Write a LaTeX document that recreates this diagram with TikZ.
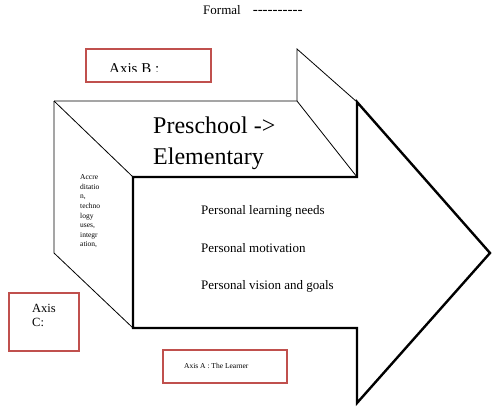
\documentclass[tikz,border=0pt]{standalone}
\usepackage{fontspec}
\setmainfont{Liberation Serif}
\definecolor{axisred}{RGB}{192,80,77}
\begin{document}
\begin{tikzpicture}[x=1pt,y=-1pt,
    front/.style={line width=2.4pt, line join=miter},
    back/.style={line width=0.8pt},
    axisbox/.style={draw=axisred, line width=2pt, inner sep=0pt},
    txt/.style={inner sep=0pt, anchor=base west}]
    \useasboundingbox (0,0) rectangle (492,412);
    % corners of the arrow
    \coordinate (tl) at (54,101);
    \coordinate (tr) at (297,101);
    \coordinate (bt) at (297,49);
    \coordinate (bl) at (54,253);
    \draw[back] (tl)--(tr)--(357,177);
    \draw[back] (tr)--(bt)--(357,102);
    \draw[back] (tl)--(133,177);
    \draw[back] (tl)--(bl)--(133,328);
    \draw[front] (133,177)--(357,177)--(357,102)--(490,253)--(357,403)--(357,328)--(133,328)--cycle;
    % texts on the arrow
    \node[txt, anchor=north west, align=left, font=\fontsize{24}{31}\selectfont] (stage) at (153,116.5) {Preschool ->\\Elementary};
    \node[txt, anchor=north west, align=left, font=\fontsize{7.5}{9.6}\selectfont] (side) at (80,174.5) {Accre\\ditatio\\n,\\techno\\logy\\uses,\\integr\\ation,};
    \foreach \t/\y [count=\i] in {Personal learning needs/214, Personal motivation/252, Personal vision and goals/289}{\node[txt, font=\fontsize{13}{15}\selectfont] (item\i) at (201,\y) {\t};}
    % axis boxes
    \node[axisbox, minimum width=125pt, minimum height=33pt] (boxB) at (148.5,65.5) {};
    \node[axisbox, minimum width=70pt, minimum height=58pt] (boxC) at (44,322) {};
    \node[axisbox, minimum width=124pt, minimum height=33pt] (boxA) at (225,366.5) {};
    \begin{scope}
        \clip (100,55) rectangle (200,71);
        \node[txt, font=\fontsize{15}{15}\selectfont] (axisB) at (109,74) {Axis B :};
    \end{scope}
    \begin{scope}
        \clip (190,0) rectangle (320,13.5);
        \node[txt, font=\fontsize{13}{15}\selectfont] (formal) at (203,14.5) {Formal\hspace{12pt}{\fontsize{15}{15}\selectfont -{}-{}-{}-{}-{}-{}-{}-{}-{}-}};
    \end{scope}
    \node[txt, anchor=north west, align=left, font=\fontsize{12.5}{14}\selectfont] (axisC) at (32,304) {Axis\\C:};
    \node[txt, font=\fontsize{7.5}{9}\selectfont] (axisA) at (184,368) {Axis A : The Learner};
\end{tikzpicture}
\end{document}
